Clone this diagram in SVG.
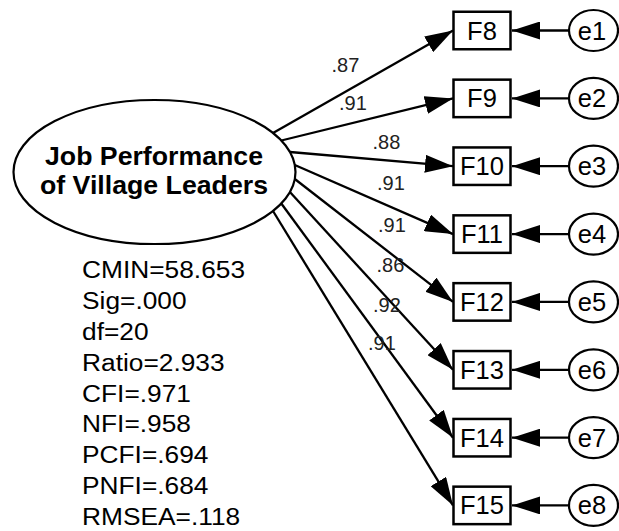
<svg xmlns="http://www.w3.org/2000/svg" width="619" height="531" viewBox="0 0 619 531">
<style>
.ln{stroke:#000;stroke-width:2.3;fill:none;marker-end:url(#ah)}
.box{fill:#fff;stroke:#000;stroke-width:2.5}
.el{fill:#fff;stroke:#000;stroke-width:2.2}
.bl{font-family:"Liberation Sans",Arial,sans-serif;font-size:25.5px;fill:#000;text-anchor:middle}
.cf{font-family:"Liberation Sans",Arial,sans-serif;font-size:20px;fill:#222}
.st{font-family:"Liberation Sans",Arial,sans-serif;font-size:23.5px;fill:#000}
.tt{font-family:"Liberation Sans",Arial,sans-serif;font-size:25px;font-weight:bold;fill:#000;text-anchor:middle}
</style>
<defs>
<marker id="ah" markerUnits="userSpaceOnUse" markerWidth="28" markerHeight="18" refX="28" refY="9" orient="auto"><path d="M0,0 L28,9 L0,18 Z" fill="#000"/></marker>
</defs>
<rect width="619" height="531" fill="#fff"/>
<g id="connectors">
<line class="ln" x1="273" y1="133" x2="453" y2="30.5"/>
<line class="ln" x1="281.3" y1="140.5" x2="453" y2="98.4"/>
<line class="ln" x1="289.9" y1="152" x2="453" y2="166.2"/>
<line class="ln" x1="294.8" y1="165" x2="453" y2="234.1"/>
<line class="ln" x1="294.8" y1="179" x2="453" y2="301.9"/>
<line class="ln" x1="289.9" y1="192" x2="453" y2="369.8"/>
<line class="ln" x1="281.3" y1="203.5" x2="453" y2="437.7"/>
<line class="ln" x1="273" y1="211" x2="453" y2="505.4"/>
<line class="ln" x1="569" y1="30.5" x2="512" y2="30.5"/>
<line class="ln" x1="569" y1="98.4" x2="512" y2="98.4"/>
<line class="ln" x1="569" y1="166.2" x2="512" y2="166.2"/>
<line class="ln" x1="569" y1="234.1" x2="512" y2="234.1"/>
<line class="ln" x1="569" y1="301.9" x2="512" y2="301.9"/>
<line class="ln" x1="569" y1="369.8" x2="512" y2="369.8"/>
<line class="ln" x1="569" y1="437.7" x2="512" y2="437.7"/>
<line class="ln" x1="569" y1="505.4" x2="512" y2="505.4"/>
<text class="cf" x="331.5" y="71.5">.87</text>
<text class="cf" x="339" y="110">.91</text>
<text class="cf" x="372.5" y="148.5">.88</text>
<text class="cf" x="377" y="189.5">.91</text>
<text class="cf" x="378" y="231.5">.91</text>
<text class="cf" x="376.5" y="272">.86</text>
<text class="cf" x="373" y="311.5">.92</text>
<text class="cf" x="368" y="350">.91</text>
</g>
<g id="latent">
<ellipse class="el" cx="154.5" cy="172" rx="141" ry="72"/>
<text class="tt" x="154" y="165" textLength="218" lengthAdjust="spacingAndGlyphs">Job Performance</text>
<text class="tt" x="154" y="193.5" textLength="228" lengthAdjust="spacingAndGlyphs">of Village Leaders</text>
</g>
<g id="F8"><rect class="box" x="453.5" y="11.75" width="57" height="37.5"/><text class="bl" x="482" y="39.5">F8</text></g>
<g id="F9"><rect class="box" x="453.5" y="79.65" width="57" height="37.5"/><text class="bl" x="482" y="107.4">F9</text></g>
<g id="F10"><rect class="box" x="453.5" y="147.45" width="57" height="37.5"/><text class="bl" x="482" y="175.2">F10</text></g>
<g id="F11"><rect class="box" x="453.5" y="215.35" width="57" height="37.5"/><text class="bl" x="482" y="243.1">F11</text></g>
<g id="F12"><rect class="box" x="453.5" y="283.15" width="57" height="37.5"/><text class="bl" x="482" y="310.9">F12</text></g>
<g id="F13"><rect class="box" x="453.5" y="351.05" width="57" height="37.5"/><text class="bl" x="482" y="378.8">F13</text></g>
<g id="F14"><rect class="box" x="453.5" y="418.95" width="57" height="37.5"/><text class="bl" x="482" y="446.7">F14</text></g>
<g id="F15"><rect class="box" x="453.5" y="486.65" width="57" height="37.5"/><text class="bl" x="482" y="514.4">F15</text></g>
<g id="e1"><ellipse class="el" cx="593.5" cy="30.5" rx="24.5" ry="20.5"/><text class="bl" x="592" y="39.5">e1</text></g>
<g id="e2"><ellipse class="el" cx="593.5" cy="98.4" rx="24.5" ry="20.5"/><text class="bl" x="592" y="107.4">e2</text></g>
<g id="e3"><ellipse class="el" cx="593.5" cy="166.2" rx="24.5" ry="20.5"/><text class="bl" x="592" y="175.2">e3</text></g>
<g id="e4"><ellipse class="el" cx="593.5" cy="234.1" rx="24.5" ry="20.5"/><text class="bl" x="592" y="243.1">e4</text></g>
<g id="e5"><ellipse class="el" cx="593.5" cy="301.9" rx="24.5" ry="20.5"/><text class="bl" x="592" y="310.9">e5</text></g>
<g id="e6"><ellipse class="el" cx="593.5" cy="369.8" rx="24.5" ry="20.5"/><text class="bl" x="592" y="378.8">e6</text></g>
<g id="e7"><ellipse class="el" cx="593.5" cy="437.7" rx="24.5" ry="20.5"/><text class="bl" x="592" y="446.7">e7</text></g>
<g id="e8"><ellipse class="el" cx="593.5" cy="505.4" rx="24.5" ry="20.5"/><text class="bl" x="592" y="514.4">e8</text></g>
<g id="fit-stats" transform="matrix(1.12,0,0,1,82,0)">
<text class="st" x="0" y="278">CMIN=58.653</text>
<text class="st" x="0" y="308.9">Sig=.000</text>
<text class="st" x="0" y="339.8">df=20</text>
<text class="st" x="0" y="370.7">Ratio=2.933</text>
<text class="st" x="0" y="401.6">CFI=.971</text>
<text class="st" x="0" y="432.5">NFI=.958</text>
<text class="st" x="0" y="463.4">PCFI=.694</text>
<text class="st" x="0" y="494.3">PNFI=.684</text>
<text class="st" x="0" y="525.2">RMSEA=.118</text>
</g>
</svg>
